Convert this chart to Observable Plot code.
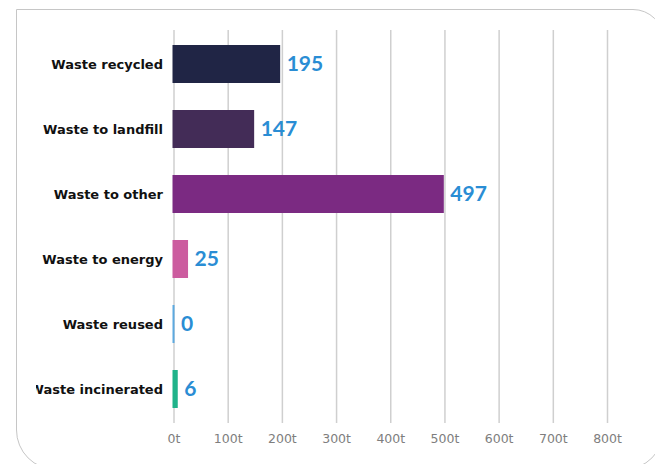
<!DOCTYPE html>
<html>
<head>
<meta charset="utf-8">
<script src="https://cdn.jsdelivr.net/npm/d3@7"></script>
<script src="https://cdn.jsdelivr.net/npm/@observablehq/plot@0.6"></script>
<style>
  html, body { margin: 0; padding: 0; background: #fff; }
  #wrap { position: relative; width: 655px; height: 464px; overflow: hidden; background: #fff; }
  #card { position: absolute; left: 16px; top: 9px; width: 648px; height: 461px; box-sizing: border-box;
          border: 1.5px solid #c6c6c6; border-radius: 0 31px 40px 40px; }
  #chart { position: absolute; left: 36px; top: 0; }
  #chart svg { overflow: hidden; }
  #chart g[aria-label="y-axis tick label"] { font-family: "DejaVu Sans", sans-serif; font-weight: bold; font-size: 13px; fill: #111; }
  #chart g[aria-label="x-axis tick label"] { font-family: "DejaVu Sans", sans-serif; font-weight: 400; font-size: 12.5px; fill: #7e7e7e; }
</style>
</head>
<body>
<div id="wrap">
  <div id="card"></div>
  <div id="chart"></div>
</div>
<script>
const categories = ["Waste recycled", "Waste to landfill", "Waste to other", "Waste to energy", "Waste reused", "Waste incinerated"];
const values = [195, 147, 497, 25, 0, 6];
const barColors = ["#202545", "#432c57", "#7b2a82", "#cc5c9f", "#5ca9e0", "#20b38a"];
const xTicks = [0, 100, 200, 300, 400, 500, 600, 700, 800];

const data = categories.map((c, i) => ({category: c, value: values[i]}));

const chart = Plot.plot({
  width: 619,
  height: 464,
  marginLeft: 137.5,
  marginRight: 48,
  marginTop: 30,
  marginBottom: 41,
  style: {background: "transparent", overflow: "hidden"},
  x: {domain: [0, 800], ticks: xTicks, label: null},
  y: {domain: categories, paddingInner: 0.42, paddingOuter: 0.21, label: null},
  color: {domain: categories, range: barColors},
  marks: [
    Plot.ruleX(xTicks, {stroke: "#cfcfcf", strokeWidth: 1.5}),
    Plot.barX(data, {x: "value", y: "category", fill: "category", insetLeft: -1, insetRight: -1}),
    Plot.text(data, {x: "value", y: "category", text: d => String(d.value), dx: 7, textAnchor: "start",
      fill: "#2a8dd4", fontWeight: "bold", fontSize: 21, fontFamily: "Lato, sans-serif"}),
    Plot.axisX(xTicks, {tickSize: 0, tickPadding: 11, tickFormat: d => d + "t", label: null}),
    Plot.axisY({tickSize: 0, tickPadding: 11, label: null})
  ]
});
document.getElementById("chart").appendChild(chart);
</script>
</body>
</html>
